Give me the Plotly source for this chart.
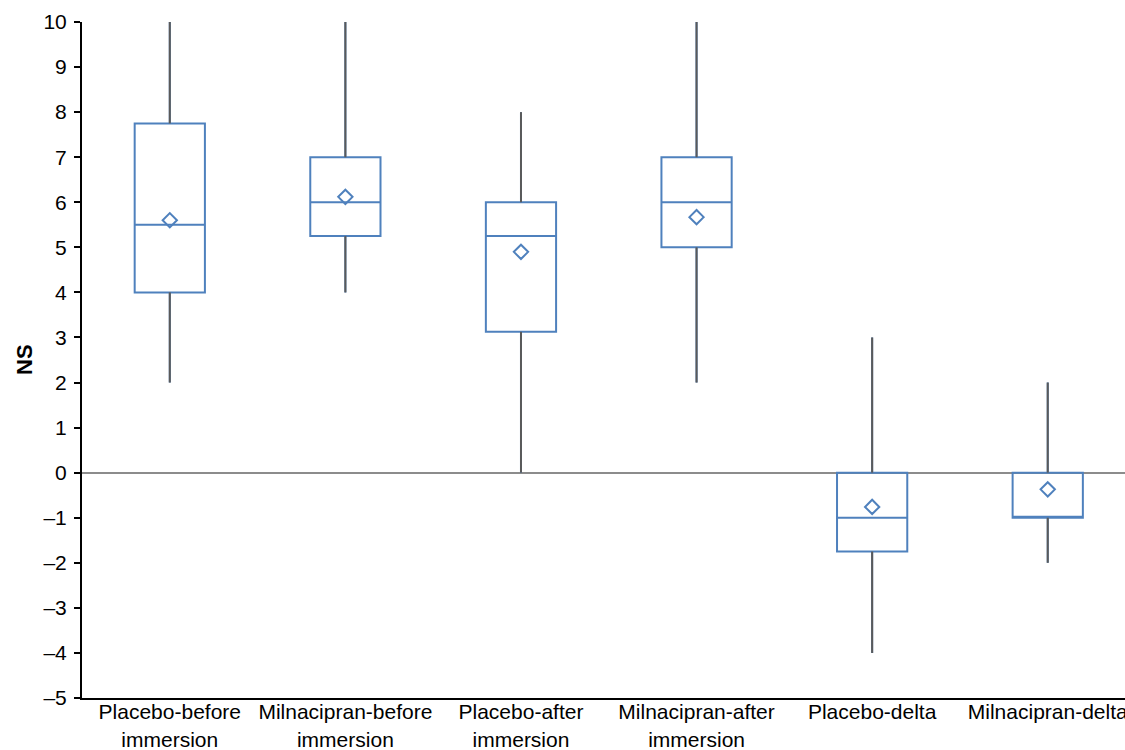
import plotly.graph_objects as go

categories = ["Placebo-before<br>immersion", "Milnacipran-before<br>immersion",
              "Placebo-after<br>immersion", "Milnacipran-after<br>immersion",
              "Placebo-delta", "Milnacipran-delta"]
lower = [2, 4, 0, 2, -4, -2]
q1 = [4, 5.25, 3.125, 5, -1.75, -1]
median = [5.5, 6, 5.25, 6, -1, -1]
q3 = [7.75, 7, 6, 7, 0, 0]
upper = [10, 10, 8, 10, 3, 2]
means = [5.6, 6.12, 4.9, 5.67, -0.76, -0.37]
y_ticks = list(range(-5, 11))
y_ticktext = [("–" + str(-v)) if v < 0 else str(v) for v in y_ticks]

BLUE = "#4f81bd"
GRAY = "#5a5a5a"

fig = go.Figure()
fig.add_trace(go.Box(
    x=categories, q1=q1, median=median, q3=q3,
    lowerfence=lower, upperfence=upper,
    width=0.4, whiskerwidth=0,
    line=dict(color=BLUE, width=2), fillcolor="rgba(255,255,255,0)",
    showlegend=False, hoverinfo="skip"))

wx, wy = [], []
for c, lo, a, b, hi in zip(categories, lower, q1, q3, upper):
    wx += [c, c, None, c, c, None]
    wy += [lo, a, None, b, hi, None]
fig.add_trace(go.Scatter(x=wx, y=wy, mode="lines",
                         line=dict(color=GRAY, width=2),
                         showlegend=False, hoverinfo="skip"))

fig.add_trace(go.Scatter(x=categories, y=means, mode="markers",
                         marker=dict(symbol="diamond-open", size=11,
                                     color=BLUE, line=dict(color=BLUE, width=2)),
                         showlegend=False))

fig.add_annotation(text="<b>NS</b>", xref="paper", yref="paper", x=0, y=0.5,
                   xanchor="center", yanchor="middle", xshift=-58, textangle=-90,
                   showarrow=False, font=dict(size=22, color="black"))

fig.update_layout(
    width=1125, height=750,
    margin=dict(l=82, r=0, t=22, b=52),
    paper_bgcolor="white", plot_bgcolor="white",
    font=dict(family="Liberation Sans, Arial, sans-serif", size=21, color="black"),
    xaxis=dict(type="category", categoryorder="array", categoryarray=categories,
               range=[-0.5, 5.44], showline=True, linecolor="black", linewidth=2,
               ticks="", showgrid=False, zeroline=False, automargin=False,
               ticklabelstandoff=-6, tickfont=dict(size=21)),
    yaxis=dict(range=[-5, 10], tickvals=y_ticks, ticktext=y_ticktext,
               showline=True, linecolor="black", linewidth=2,
               ticks="outside", ticklen=6, tickwidth=2, tickcolor="black",
               ticklabelstandoff=3,
               showgrid=False, zeroline=True, zerolinecolor="#8c8c8c", zerolinewidth=2,
               automargin=False),
)

fig.write_html("out.html", config={"displayModeBar": False},
               post_script="document.body.style.margin='0';document.body.style.overflow='hidden';")
